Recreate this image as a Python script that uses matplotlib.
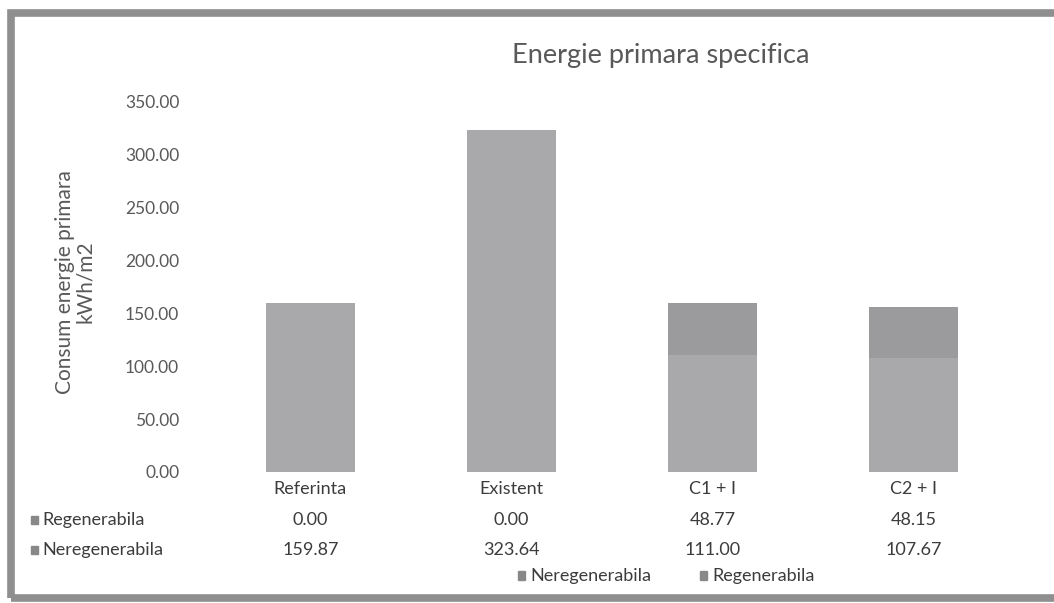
import matplotlib.pyplot as plt
from matplotlib.patches import Rectangle
import matplotlib.transforms as mtransforms

categories = ['Referinta', 'Existent', 'C1 + I', 'C2 + I']
neregenerabila = [159.87, 323.64, 111.00, 107.67]
regenerabila = [0.00, 0.00, 48.77, 48.15]
yticks = [0, 50, 100, 150, 200, 250, 300, 350]

plt.rcParams['font.family'] = ['Lato', 'DejaVu Sans']

col_nereg = '#a9a9ab'
col_reg = '#9b9b9d'
txt = '#595959'
tbl = '#3c3c3c'

fig = plt.figure(figsize=(10.54, 6.03), dpi=100)
fig.patch.set_facecolor('white')

# chart border (scanned frame, thick grey)
fig.add_artist(Rectangle((11 / 1054, 5 / 603), 1.1, 585 / 603, transform=fig.transFigure,
                         fill=False, edgecolor='#8f8f8f', linewidth=5.5))

ax = fig.add_axes([0.199, 0.2173, 0.763, 0.6136])
x = list(range(len(categories)))
ax.bar(x, neregenerabila, width=0.44, color=col_nereg, label='Neregenerabila')
ax.bar(x, regenerabila, width=0.44, bottom=neregenerabila, color=col_reg, label='Regenerabila')

ax.set_xlim(-0.5, 3.5)
ax.set_ylim(0, 350)
ax.set_yticks(yticks)
ax.set_yticklabels([f'{v:.2f}' for v in yticks], fontsize=12.5, color=txt)
ax.tick_params(axis='y', length=0, pad=22)
ax.set_xticks([])
for s in ax.spines.values():
    s.set_visible(False)

fig.text(75 / 1054, 1 - 282 / 603, 'Consum energie primara\nkWh/m2', fontsize=15, color=txt,
         rotation=90, ha='center', va='center', multialignment='center', linespacing=1.05)

fig.text(661 / 1054, 1 - 56 / 603, 'Energie primara specifica', fontsize=19.5,
         color=txt, ha='center', va='center')

# data table below the axis
tr = mtransforms.blended_transform_factory(ax.transData, fig.transFigure)
for i, c in enumerate(categories):
    ax.text(i, 1 - 489 / 603, c, transform=tr, ha='center', va='center', fontsize=13, color=tbl)
    ax.text(i, 1 - 520 / 603, f'{regenerabila[i]:.2f}', transform=tr, ha='center', va='center',
            fontsize=13, color=tbl)
    ax.text(i, 1 - 550 / 603, f'{neregenerabila[i]:.2f}', transform=tr, ha='center', va='center',
            fontsize=13, color=tbl)

rows = [('Regenerabila', 520), ('Neregenerabila', 550)]
for name, yp in rows:
    fig.add_artist(Rectangle((31 / 1054, 1 - (yp + 4) / 603), 7 / 1054, 8 / 603,
                             transform=fig.transFigure, color='#888888'))
    fig.text(42 / 1054, 1 - yp / 603, name, fontsize=13, color=tbl, va='center')

# legend
for name, xp in [('Neregenerabila', 518), ('Regenerabila', 700)]:
    fig.add_artist(Rectangle((xp / 1054, 1 - 580 / 603), 7 / 1054, 9 / 603,
                             transform=fig.transFigure, color='#888888'))
    fig.text((xp + 12) / 1054, 1 - 576 / 603, name, fontsize=13, color=tbl, va='center')

fig.savefig('out.png', dpi=100)
